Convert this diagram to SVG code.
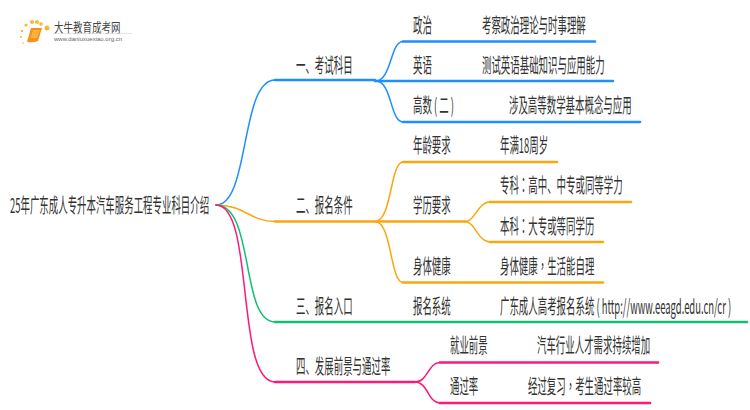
<svg xmlns="http://www.w3.org/2000/svg" width="750" height="410" viewBox="0 0 750 410">
<style>
text{font-family:"Noto Sans CJK SC","Noto Sans",sans-serif;font-size:20px;fill:#333}
.t{font-family:"Noto Sans CJK TC","Noto Sans",sans-serif}
.c path{fill:none;stroke-linecap:round;stroke-width:1.500}
.c path.f{stroke-width:2.600}
.b{stroke:#1e8fff}.o{stroke:#f9a60f}.g{stroke:#10c070}.p{stroke:#fb1a78}
</style>
<g id="logo">
<g fill="#f9b73a"><circle cx="47" cy="28" r="2.500"/><circle cx="41" cy="24" r="1.800"/><circle cx="32" cy="22" r="2"/><circle cx="37" cy="22" r="2"/><circle cx="26" cy="25" r="1.600"/><circle cx="22" cy="31" r="1.200"/><circle cx="21" cy="37" r="1"/><circle cx="23" cy="43" r="0.800"/></g>
<path d="M31 28H42L38 41Q33 43 27 42Z" fill="#f5921e"/>
<path d="M33 30H40L37 38H30.500Z" fill="#fbb040"/>
<text transform="translate(54 32) scale(.73 1)" style="font-size:13px;fill:#444">大牛教育成考网</text>
<path d="M53 33.500H132" stroke="#ddd" stroke-width="0.700" fill="none"/>
<text x="54" y="41" style="font-size:6px;fill:#666;font-family:'Liberation Sans',sans-serif">www.daniuxuexiao.org.cn</text>
</g>
<g id="connectors" class="c">
<path class="b" d="M216 205C250 205 240 80 275 80"/><path class="b f" d="M275 80H375"/>
<path class="b" d="M375 81C392 81 390 41.500 403 41.500"/><path class="b f" d="M403 41.500H595"/>
<path class="b f" d="M375 81H613"/>
<path class="b" d="M376 81C392 81 390 122 403 122"/><path class="b f" d="M403 122H640"/>
<path class="o" d="M216 205C245 205 250 221.500 275 221.500"/><path class="o f" d="M275 221.500H465"/>
<path class="o" d="M375 221.500C392 221.500 390 162 403 162"/><path class="o f" d="M403 162H557"/>
<path class="o" d="M375 221.500C392 221.500 390 282.500 403 282.500"/><path class="o f" d="M403 282.500H603"/>
<path class="o" d="M465 221.500C475 221.500 478 202 490 202"/><path class="o f" d="M490 202H631"/>
<path class="o" d="M465 221.500C475 221.500 478 242 490 242"/><path class="o f" d="M490 242H603"/>
<path class="g" d="M216 205C255 205 240 322 275 322"/><path class="g f" d="M275 322H747"/>
<path class="p" d="M216 205C255 205 235 382 275 382"/><path class="p f" d="M275 382H415"/>
<path class="p" d="M415 382C428 382 428 362.500 440 362.500"/><path class="p f" d="M440 362.500H658"/>
<path class="p" d="M415 382C428 382 428 403 440 403"/><path class="p f" d="M440 403H650"/>
</g>
<g id="root"><text transform="translate(10 213) scale(.472 1)">25年广东成人专升本汽车服务工程专业科目介绍</text></g>
<g id="n1"><text transform="translate(296 73) scale(.472 1)">一、考试科目</text></g>
<g id="n2"><text transform="translate(296 213) scale(.472 1)">二、报名条件</text></g>
<g id="n3"><text transform="translate(296 314) scale(.472 1)">三、报名入口</text></g>
<g id="n4"><text transform="translate(296 374) scale(.472 1)">四、发展前景与通过率</text></g>
<g id="n5"><text transform="translate(413 33) scale(.472 1)">政治</text></g>
<g id="n6"><text transform="translate(482 33) scale(.472 1)">考察政治理论与时事理解</text></g>
<g id="n7"><text transform="translate(413 73) scale(.472 1)">英语</text></g>
<g id="n8"><text transform="translate(482 73) scale(.472 1)">测试英语基础知识与应用能力</text></g>
<g id="n9"><text transform="translate(413 113) scale(.472 1)">高数 ( 二 )</text></g>
<g id="n10"><text transform="translate(509 113) scale(.472 1)">涉及高等数学基本概念与应用</text></g>
<g id="n11"><text transform="translate(413 153) scale(.472 1)">年龄要求</text></g>
<g id="n12"><text transform="translate(500 153) scale(.472 1)">年满18周岁</text></g>
<g id="n13"><text transform="translate(413 213) scale(.472 1)">学历要求</text></g>
<g id="n14"><text transform="translate(500 193) scale(.472 1)">专科<tspan class="t">：</tspan>高中、中专或同等学力</text></g>
<g id="n15"><text transform="translate(500 234) scale(.472 1)">本科<tspan class="t">：</tspan>大专或等同学历</text></g>
<g id="n16"><text transform="translate(413 274) scale(.472 1)">身体健康</text></g>
<g id="n17"><text transform="translate(500 274) scale(.472 1)">身体健康<tspan class="t">，</tspan>生活能自理</text></g>
<g id="n18"><text transform="translate(413 314) scale(.472 1)">报名系统</text></g>
<g id="n19"><text transform="translate(500 314) scale(.472 1)">广东成人高考报名系统 ( http://www.eeagd.edu.cn/cr )</text></g>
<g id="n20"><text transform="translate(450 353) scale(.472 1)">就业前景</text></g>
<g id="n21"><text transform="translate(537 353) scale(.472 1)">汽车行业人才需求持续增加</text></g>
<g id="n22"><text transform="translate(450 394) scale(.472 1)">通过率</text></g>
<g id="n23"><text transform="translate(528 394) scale(.472 1)">经过复习<tspan class="t">，</tspan>考生通过率较高</text></g>
</svg>
